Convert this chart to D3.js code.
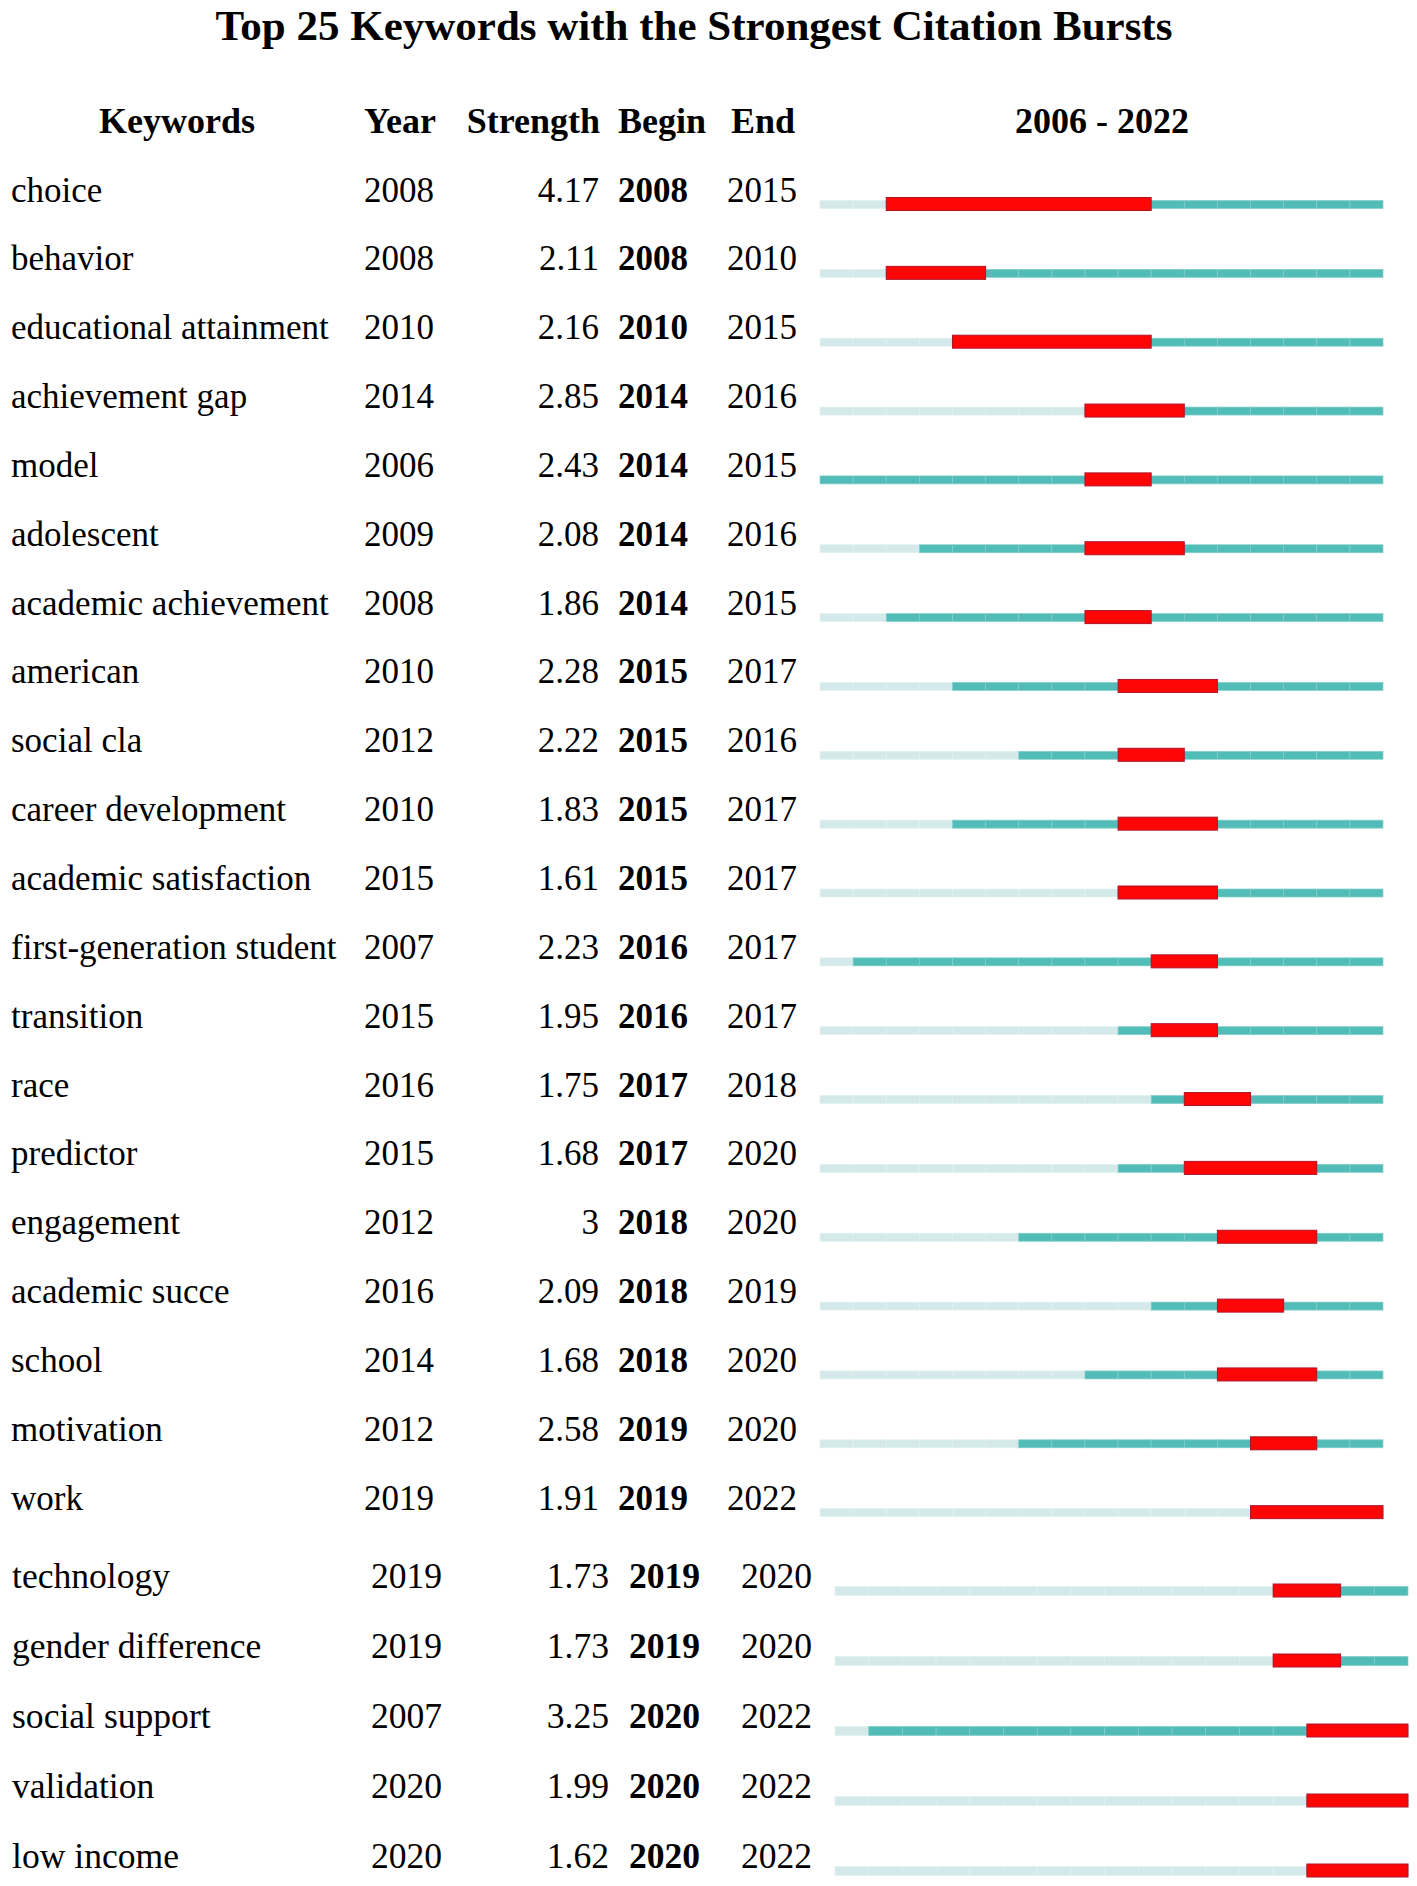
<!DOCTYPE html>
<html>
<head>
<meta charset="utf-8">
<script src="https://cdn.jsdelivr.net/npm/d3@7"></script>
<style>
  body { margin: 0; background: #fff; }
  svg { display: block; }
</style>
</head>
<body>
<div id="burst"></div>
<script>
// data
let keywords = ['choice', 'behavior', 'educational attainment', 'achievement gap', 'model', 'adolescent',
    'academic achievement', 'american', 'social cla', 'career development', 'academic satisfaction',
    'first-generation student', 'transition', 'race', 'predictor', 'engagement', 'academic succe',
    'school', 'motivation', 'work', 'technology', 'gender difference', 'social support', 'validation',
    'low income']
let years = [2008, 2008, 2010, 2014, 2006, 2009, 2008, 2010, 2012, 2010, 2015, 2007, 2015, 2016, 2015,
    2012, 2016, 2014, 2012, 2019, 2019, 2019, 2007, 2020, 2020]
let strengths = [4.17, 2.11, 2.16, 2.85, 2.43, 2.08, 1.86, 2.28, 2.22, 1.83, 1.61, 2.23, 1.95, 1.75, 1.68,
    3, 2.09, 1.68, 2.58, 1.91, 1.73, 1.73, 3.25, 1.99, 1.62]
let begins = [2008, 2008, 2010, 2014, 2014, 2014, 2014, 2015, 2015, 2015, 2015, 2016, 2016, 2017, 2017,
    2018, 2018, 2018, 2019, 2019, 2019, 2019, 2020, 2020, 2020]
let ends = [2015, 2010, 2015, 2016, 2015, 2016, 2015, 2017, 2016, 2017, 2017, 2017, 2017, 2018, 2020,
    2020, 2019, 2020, 2020, 2022, 2020, 2020, 2022, 2022, 2022]
let span = [2006, 2022]
let headers = ['Keywords', 'Year', 'Strength', 'Begin', 'End']

let width = 1417
let height = 1886
let font = '"Liberation Serif", "Times New Roman", serif'

let rows = keywords.map((k, i) => ({
    keyword: k, year: years[i], strength: strengths[i], begin: begins[i], end: ends[i]
}))

let svg = d3.select('#burst').append('svg')
    .attr('width', width).attr('height', height)
    .style('font-family', font)

svg.append('rect').attr('width', width).attr('height', height).attr('fill', '#fff')

svg.append('text')
    .attr('x', 694).attr('y', 40)
    .attr('text-anchor', 'middle')
    .style('font-size', '43px').style('font-weight', 'bold')
    .text('Top 25 Keywords with the Strongest Citation Bursts')

// header row
let head = svg.append('g').style('font-size', '36px').style('font-weight', 'bold')
head.append('text').attr('x', 177).attr('y', 133).attr('text-anchor', 'middle').text(headers[0])
head.append('text').attr('x', 364).attr('y', 133).text(headers[1])
head.append('text').attr('x', 600).attr('y', 133).attr('text-anchor', 'end').text(headers[2])
head.append('text').attr('x', 618).attr('y', 133).text(headers[3])
head.append('text').attr('x', 731).attr('y', 133).text(headers[4])
head.append('text').attr('x', 1102).attr('y', 133).attr('text-anchor', 'middle')
    .text(span[0] + ' - ' + span[1])

// the figure was pasted from two screenshots, the last five rows sit a bit lower / to the right
function drawPanel(data, p) {
    let allYears = d3.range(span[0], span[1] + 1)
    let x = d3.scaleLinear().domain([span[0], span[1] + 1]).range([p.x0, p.x1])
    let y = d3.scaleLinear().domain([0, 1]).range([p.top, p.top + p.step])

    let g = svg.append('g').style('font-size', p.fs + 'px')
    let row = g.selectAll('g.row')
        .data(data)
        .enter()
        .append('g')
        .attr('class', 'row')
        .attr('transform', (d, i) => 'translate(0,' + y(i) + ')')

    row.append('text').attr('x', p.kw).attr('y', -3).text(d => d.keyword)
    row.append('text').attr('x', p.year).attr('y', -3).text(d => d.year)
    row.append('text').attr('x', p.strength).attr('y', -3).attr('text-anchor', 'end').text(d => String(d.strength))
    row.append('text').attr('x', p.begin).attr('y', -3).style('font-weight', 'bold').text(d => d.begin)
    row.append('text').attr('x', p.end).attr('y', -3).text(d => d.end)

    // one cell per year: light before the keyword appears, teal after
    row.selectAll('rect.cell')
        .data(d => allYears.map(yr => ({ yr: yr, on: yr >= d.year })))
        .enter()
        .append('rect')
        .attr('class', 'cell')
        .attr('x', d => x(d.yr))
        .attr('width', d => x(d.yr + 1) - x(d.yr))
        .attr('y', -p.lh / 2)
        .attr('height', p.lh)
        .attr('fill', d => d.on ? '#52bdb8' : '#d4eaea')
        .attr('stroke', d => d.on ? '#84cfcb' : '#e2f1f1')
        .attr('stroke-width', 0.7)

    // burst
    row.append('rect')
        .attr('x', d => x(d.begin))
        .attr('width', d => x(d.end + 1) - x(d.begin))
        .attr('y', -7)
        .attr('height', 13)
        .attr('fill', '#fe0606')
        .attr('stroke', '#b0122a')
        .attr('stroke-width', 1)
}

drawPanel(rows.slice(0, 20), {
    top: 204.5, step: 68.85, fs: 35, lh: 8,
    kw: 11, year: 364, strength: 599, begin: 618, end: 727, x0: 820, x1: 1383
})
drawPanel(rows.slice(20), {
    top: 1591, step: 70, fs: 35.6, lh: 9,
    kw: 12, year: 371, strength: 609, begin: 629, end: 741, x0: 835, x1: 1408
})
</script>
</body>
</html>
